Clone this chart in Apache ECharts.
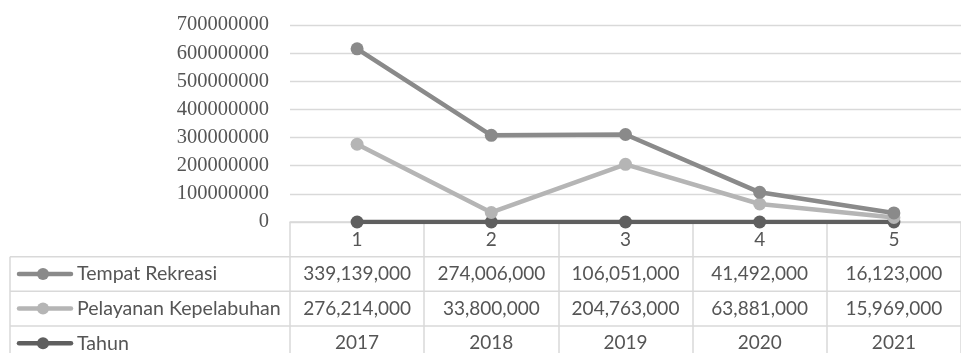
<!DOCTYPE html>
<html>
<head>
<meta charset="utf-8">
<script src="https://cdn.jsdelivr.net/npm/echarts@6/dist/echarts.min.js"></script>
<style>html,body{margin:0;padding:0;background:#fff;}#c{width:961px;height:353px;}</style>
</head>
<body>
<div id="c"></div>
<script>
const categories = ['1', '2', '3', '4', '5'];
const tempatRekreasi = [339139000, 274006000, 106051000, 41492000, 16123000];
const pelayananKepelabuhan = [276214000, 33800000, 204763000, 63881000, 15969000];
const tahun = [2017, 2018, 2019, 2020, 2021];
const yTicks = [0, 100000000, 200000000, 300000000, 400000000, 500000000, 600000000, 700000000];

const C_TEMPAT = '#8a8a8a', C_PEL = '#b5b5b5', C_TAHUN = '#5f5f5f';
const GRID = '#d9d9d9', TXT = '#555555';

const chart = echarts.init(document.getElementById('c'));
function lineSeries(name, data, color) {
  return {
    name, type: 'line', data, stack: 'total',
    symbol: 'circle', symbolSize: 13,
    lineStyle: { color, width: 4.5 },
    itemStyle: { color },
    animation: false
  };
}
chart.setOption({
  animation: false,
  grid: { left: 290, top: 25, width: 686, height: 197 },
  xAxis: {
    type: 'category', data: categories, boundaryGap: true,
    axisLine: { lineStyle: { color: GRID, width: 1.5 } },
    axisTick: { show: true, length: 140, lineStyle: { color: GRID, width: 1.5 } },
    axisLabel: { color: TXT, fontFamily: 'Lato', fontSize: 19, margin: 8 }
  },
  yAxis: {
    type: 'value', min: yTicks[0], max: yTicks[yTicks.length - 1], interval: yTicks[1] - yTicks[0],
    axisLine: { show: false }, axisTick: { show: false },
    splitLine: { lineStyle: { color: GRID, width: 1.3 } },
    axisLabel: { color: TXT, fontFamily: 'Liberation Serif', fontSize: 20.5, margin: 21, formatter: v => String(v) }
  },
  series: [
    lineSeries('Tahun', tahun, C_TAHUN),
    lineSeries('Pelayanan Kepelabuhan', pelayananKepelabuhan, C_PEL),
    lineSeries('Tempat Rekreasi', tempatRekreasi, C_TEMPAT)
  ]
});

const rows = [
  { name: 'Tempat Rekreasi', data: tempatRekreasi, color: C_TEMPAT, fmt: v => v.toLocaleString('en-US') },
  { name: 'Pelayanan Kepelabuhan', data: pelayananKepelabuhan, color: C_PEL, fmt: v => v.toLocaleString('en-US') },
  { name: 'Tahun', data: tahun, color: C_TAHUN, fmt: v => String(v) }
];
const rowTop = 256.7, rowH = 34.6;
const g = [];
for (let i = 0; i < 3; i++) {
  const y = rowTop + i * rowH;
  g.push({ type: 'line', shape: { x1: 10, y1: y, x2: 961, y2: y }, style: { stroke: GRID, lineWidth: 1.5 }, silent: true });
}
g.push({ type: 'line', shape: { x1: 10, y1: rowTop, x2: 10, y2: 353 }, style: { stroke: GRID, lineWidth: 1.5 }, silent: true });
rows.forEach((r, i) => {
  const cy = rowTop + i * rowH + rowH / 2;
  g.push({ type: 'line', shape: { x1: 19, y1: cy, x2: 71, y2: cy }, style: { stroke: r.color, lineWidth: 4.5, lineCap: 'round' }, silent: true });
  g.push({ type: 'circle', shape: { cx: 43, cy: cy, r: 6 }, style: { fill: r.color }, silent: true });
  g.push({ type: 'text', x: 77, y: cy, style: { text: r.name, fill: TXT, font: '19.6px Lato', textVerticalAlign: 'middle', textAlign: 'left' }, silent: true });
  r.data.forEach((v, j) => {
    const x = chart.convertToPixel({ xAxisIndex: 0 }, categories[j]);
    g.push({ type: 'text', x: x, y: cy, style: { text: r.fmt(v), fill: TXT, font: '19px Lato', textVerticalAlign: 'middle', textAlign: 'center' }, silent: true });
  });
});
chart.setOption({ graphic: g });
</script>
</body>
</html>
